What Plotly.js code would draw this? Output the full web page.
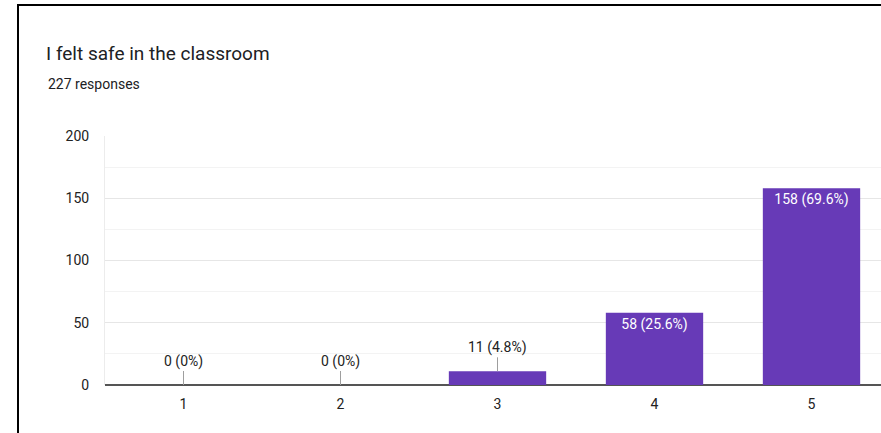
<!DOCTYPE html>
<html>
<head>
<meta charset="utf-8">
<script src="https://cdn.plot.ly/plotly-3.0.1.min.js"></script>
<style>
  html, body { margin: 0; padding: 0; width: 881px; height: 433px; overflow: hidden; background: #fff; }
  #chart { position: absolute; left: 0; top: 0; width: 900px; height: 433px; }
  #frame { position: absolute; left: 17px; top: 4px; width: 900px; height: 500px; border: 2px solid #000; pointer-events: none; box-sizing: border-box; }
</style>
</head>
<body>
<div id="chart"></div>
<div id="frame"></div>
<script>
const chartTitle = "I felt safe in the classroom";
const subtitle = "227 responses";
const categories = ["1", "2", "3", "4", "5"];
const counts = [0, 0, 11, 58, 158];
const percentLabels = ["0%", "0%", "4.8%", "25.6%", "69.6%"];
const yTicks = [0, 50, 100, 150, 200];

const purple = "#673AB7";
const insideThreshold = 30;
const labels = counts.map((c, i) => c + " (" + percentLabels[i] + ")");

const trace = {
  type: "bar",
  x: categories,
  y: counts,
  width: 0.62,
  marker: { color: purple, line: { width: 0 } },
  text: labels.map((t, i) => counts[i] >= insideThreshold ? t : ""),
  textposition: "inside",
  insidetextanchor: "end",
  textangle: 0,
  constraintext: "none",
  insidetextfont: { family: "Roboto, Arial, sans-serif", size: 14, color: "#ffffff" },
  hoverinfo: "none"
};

const annotations = [];
counts.forEach((c, i) => {
  if (c < insideThreshold) {
    annotations.push({
      x: i, y: c, xref: "x", yref: "y",
      text: labels[i],
      showarrow: true, arrowhead: 0, arrowwidth: 1, arrowcolor: "#9e9e9e",
      ax: 0, ay: -24, standoff: 0,
      font: { family: "Roboto, Arial, sans-serif", size: 14, color: "#222222" }
    });
  }
});
annotations.push({
  text: subtitle, xref: "paper", yref: "paper",
  x: (46 - 105) / 785, y: (385 - 84) / 249,
  xanchor: "left", yanchor: "middle", showarrow: false,
  font: { family: "Roboto, Arial, sans-serif", size: 14, color: "#202124" }
});

const layout = {
  width: 900, height: 433,
  margin: { l: 105, r: 10, t: 136, b: 48 },
  paper_bgcolor: "#ffffff", plot_bgcolor: "#ffffff",
  showlegend: false,
  title: {
    text: chartTitle, xref: "container", yref: "container",
    x: 46 / 900, xanchor: "left", y: 1 - 53 / 433, yanchor: "middle",
    font: { family: "Roboto, Arial, sans-serif", size: 19, color: "#202124" }
  },
  xaxis: {
    type: "category", range: [-0.5, 4.5], fixedrange: true,
    showgrid: false, zeroline: false, showline: false, ticks: "",
    tickfont: { family: "Roboto, Arial, sans-serif", size: 14, color: "#222222" },
    ticklabelstandoff: 9
  },
  yaxis: {
    range: [0, 200], tickvals: yTicks, ticktext: yTicks.map(String), fixedrange: true,
    showgrid: true, gridcolor: "#e6e6e6", gridwidth: 1,
    minor: { dtick: 25, tick0: 0, showgrid: true, gridcolor: "#f3f3f3", gridwidth: 1, ticks: "" },
    zeroline: true, zerolinecolor: "#555555", zerolinewidth: 1.5,
    showline: true, linecolor: "#ececec", linewidth: 1,
    ticks: "", ticklabelstandoff: 12,
    tickfont: { family: "Roboto, Arial, sans-serif", size: 14, color: "#222222" }
  },
  annotations: annotations,
  bargap: 0.38
};

Plotly.newPlot("chart", [trace], layout, { displayModeBar: false, staticPlot: true });
</script>
</body>
</html>
